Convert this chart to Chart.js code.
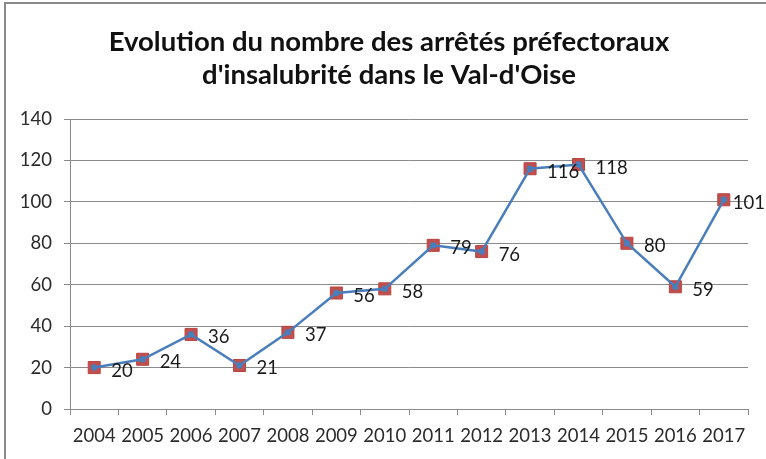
<!DOCTYPE html>
<html>
<head>
<meta charset="utf-8">
<script src="https://cdn.jsdelivr.net/npm/chart.js@4.4.0/dist/chart.umd.min.js"></script>
<style>
  html, body { margin: 0; padding: 0; background: #fff; }
  #wrap { width: 766px; height: 459px; position: relative; }
</style>
</head>
<body>
<div id="wrap"><canvas id="c" width="766" height="459"></canvas></div>
<script>
const titleLines = ["Evolution du nombre des arrêtés préfectoraux", "d'insalubrité dans le Val-d'Oise"];
const years = ["2004","2005","2006","2007","2008","2009","2010","2011","2012","2013","2014","2015","2016","2017"];
const arretes = [20, 24, 36, 21, 37, 56, 58, 79, 76, 116, 118, 80, 59, 101];
const yTicks = [0, 20, 40, 60, 80, 100, 120, 140];

const FONT = "Lato, 'Open Sans', sans-serif";

const framePlugin = {
  id: 'frame',
  beforeDraw(chart) {
    const ctx = chart.ctx;
    ctx.save();
    ctx.fillStyle = '#fff';
    ctx.fillRect(0, 0, chart.width, chart.height);
    ctx.strokeStyle = '#8a8a8a';
    ctx.lineWidth = 2;
    ctx.beginPath();
    ctx.moveTo(5, chart.height + 5);
    ctx.lineTo(5, 3);
    ctx.lineTo(chart.width + 5, 3);
    ctx.stroke();
    // title
    ctx.fillStyle = '#111';
    ctx.font = "bold 27.5px " + FONT;
    ctx.textAlign = 'center';
    ctx.textBaseline = 'middle';
    ctx.fillText(titleLines[0], 389, 42);
    ctx.fillText(titleLines[1], 389, 75);
    ctx.restore();
  }
};

const labelPlugin = {
  id: 'valueLabels',
  afterDatasetsDraw(chart) {
    const ctx = chart.ctx;
    const meta = chart.getDatasetMeta(0);
    ctx.save();
    ctx.fillStyle = '#1a1a1a';
    ctx.font = "18.5px " + FONT;
    ctx.textAlign = 'left';
    ctx.textBaseline = 'middle';
    meta.data.forEach((pt, i) => {
      const txt = String(arretes[i]);
      const w = ctx.measureText(txt).width;
      const x = Math.min(pt.x + 17, chart.width - w - 1);
      ctx.fillText(txt, x, pt.y + 3);
    });
    ctx.restore();
  }
};

new Chart(document.getElementById('c'), {
  type: 'line',
  data: {
    labels: years,
    datasets: [
      {
        label: 'marqueurs',
        data: arretes,
        showLine: false,
        pointStyle: 'rect',
        pointRadius: 8.5,
        pointBackgroundColor: '#C0504D',
        pointBorderColor: '#B84440',
        pointBorderWidth: 1,
        order: 2
      },
      {
        label: 'arrêtés',
        data: arretes,
        borderColor: '#4A7EBB',
        borderWidth: 2.5,
        tension: 0,
        pointStyle: 'circle',
        pointRadius: 3.2,
        pointBackgroundColor: '#4A7EBB',
        pointBorderColor: '#4A7EBB',
        pointBorderWidth: 0,
        order: 1
      }
    ]
  },
  options: {
    responsive: false,
    animation: false,
    devicePixelRatio: 1,
    layout: { padding: { top: 119, right: 18, left: 0, bottom: 0 } },
    plugins: {
      legend: { display: false },
      title: { display: false },
      tooltip: { enabled: false }
    },
    scales: {
      x: {
        offset: true,
        grid: { display: true, offset: true, drawOnChartArea: false, drawTicks: true, tickLength: 6, color: '#8a8a8a' },
        border: { display: true, color: '#8a8a8a', width: 1 },
        ticks: { color: '#2b2b2b', font: { family: FONT, size: 18.5 }, padding: 10, maxRotation: 0, autoSkip: false },
        afterFit(scale) { scale.height = 50; }
      },
      y: {
        min: 0,
        max: 140,
        afterBuildTicks(scale) { scale.ticks = yTicks.map(v => ({ value: v })); },
        grid: { color: '#8a8a8a', lineWidth: 1, drawTicks: true, tickLength: 6 },
        border: { display: true, color: '#8a8a8a', width: 1 },
        ticks: { color: '#2b2b2b', font: { family: FONT, size: 18.5 }, padding: 12 },
        afterFit(scale) { scale.width = 70; }
      }
    }
  },
  plugins: [framePlugin, labelPlugin]
});
</script>
</body>
</html>
